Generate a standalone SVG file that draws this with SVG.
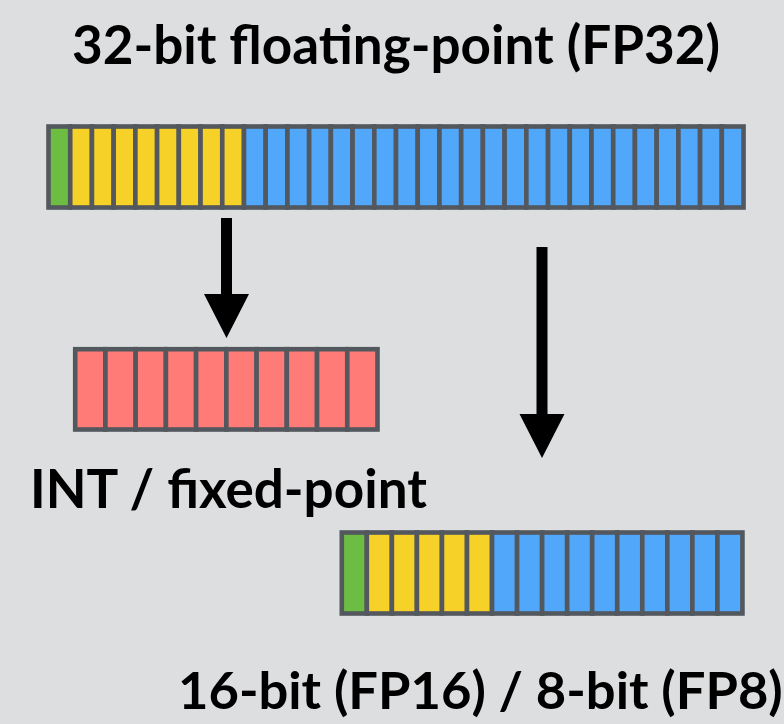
<svg xmlns="http://www.w3.org/2000/svg" width="784" height="724" viewBox="0 0 784 724">
  <defs>
    <style>
      .bg { fill: #dddee0; }
      .cell { stroke: #53575e; stroke-width: 4.6; }
      .sign { fill: #6dbd42; }
      .exp { fill: #f6d229; }
      .man { fill: #51a7f9; }
      .int { fill: #ff7b77; }
      .label { font-family: Lato, "Open Sans", sans-serif; font-weight: 700; font-size: 53px; fill: #000; }
      .arrow { fill: #000; }
    </style>
  </defs>

  <rect class="bg" x="0" y="0" width="784" height="724"/>

  <!-- 32-bit float: 1 sign + 8 exponent + 23 mantissa -->
  <g id="fp32">
    <text class="label" x="396" y="64" text-anchor="middle">32-bit floating-point (FP32)</text>
    <g id="fp32-bits">
      <rect class="cell sign" x="48.5" y="126.5" width="21.72" height="81"/>
      <rect class="cell exp" x="70.22" y="126.5" width="21.72" height="81"/>
      <rect class="cell exp" x="91.94" y="126.5" width="21.72" height="81"/>
      <rect class="cell exp" x="113.66" y="126.5" width="21.72" height="81"/>
      <rect class="cell exp" x="135.38" y="126.5" width="21.72" height="81"/>
      <rect class="cell exp" x="157.1" y="126.5" width="21.72" height="81"/>
      <rect class="cell exp" x="178.82" y="126.5" width="21.72" height="81"/>
      <rect class="cell exp" x="200.54" y="126.5" width="21.72" height="81"/>
      <rect class="cell exp" x="222.26" y="126.5" width="21.72" height="81"/>
      <rect class="cell man" x="243.98" y="126.5" width="21.72" height="81"/>
      <rect class="cell man" x="265.7" y="126.5" width="21.72" height="81"/>
      <rect class="cell man" x="287.42" y="126.5" width="21.72" height="81"/>
      <rect class="cell man" x="309.14" y="126.5" width="21.72" height="81"/>
      <rect class="cell man" x="330.86" y="126.5" width="21.72" height="81"/>
      <rect class="cell man" x="352.58" y="126.5" width="21.72" height="81"/>
      <rect class="cell man" x="374.3" y="126.5" width="21.72" height="81"/>
      <rect class="cell man" x="396.02" y="126.5" width="21.72" height="81"/>
      <rect class="cell man" x="417.74" y="126.5" width="21.72" height="81"/>
      <rect class="cell man" x="439.46" y="126.5" width="21.72" height="81"/>
      <rect class="cell man" x="461.18" y="126.5" width="21.72" height="81"/>
      <rect class="cell man" x="482.9" y="126.5" width="21.72" height="81"/>
      <rect class="cell man" x="504.62" y="126.5" width="21.72" height="81"/>
      <rect class="cell man" x="526.34" y="126.5" width="21.72" height="81"/>
      <rect class="cell man" x="548.06" y="126.5" width="21.72" height="81"/>
      <rect class="cell man" x="569.78" y="126.5" width="21.72" height="81"/>
      <rect class="cell man" x="591.5" y="126.5" width="21.72" height="81"/>
      <rect class="cell man" x="613.22" y="126.5" width="21.72" height="81"/>
      <rect class="cell man" x="634.94" y="126.5" width="21.72" height="81"/>
      <rect class="cell man" x="656.66" y="126.5" width="21.72" height="81"/>
      <rect class="cell man" x="678.38" y="126.5" width="21.72" height="81"/>
      <rect class="cell man" x="700.1" y="126.5" width="21.72" height="81"/>
      <rect class="cell man" x="721.82" y="126.5" width="21.72" height="81"/>
    </g>
  </g>

  <!-- integer / fixed-point: 10 cells -->
  <g id="int">
    <g id="int-bits">
      <rect class="cell int" x="75.2" y="349.2" width="30.23" height="80.3"/>
      <rect class="cell int" x="105.43" y="349.2" width="30.23" height="80.3"/>
      <rect class="cell int" x="135.66" y="349.2" width="30.23" height="80.3"/>
      <rect class="cell int" x="165.89" y="349.2" width="30.23" height="80.3"/>
      <rect class="cell int" x="196.12" y="349.2" width="30.23" height="80.3"/>
      <rect class="cell int" x="226.35" y="349.2" width="30.23" height="80.3"/>
      <rect class="cell int" x="256.58" y="349.2" width="30.23" height="80.3"/>
      <rect class="cell int" x="286.81" y="349.2" width="30.23" height="80.3"/>
      <rect class="cell int" x="317.04" y="349.2" width="30.23" height="80.3"/>
      <rect class="cell int" x="347.27" y="349.2" width="30.23" height="80.3"/>
    </g>
    <text class="label" x="30" y="508">INT / fixed-point</text>
  </g>

  <!-- reduced float: 1 sign + 5 exponent + 10 mantissa -->
  <g id="fp16">
    <g id="fp16-bits">
      <rect class="cell sign" x="341.8" y="532.5" width="25.04" height="81"/>
      <rect class="cell exp" x="366.84" y="532.5" width="25.04" height="81"/>
      <rect class="cell exp" x="391.88" y="532.5" width="25.04" height="81"/>
      <rect class="cell exp" x="416.92" y="532.5" width="25.04" height="81"/>
      <rect class="cell exp" x="441.96" y="532.5" width="25.04" height="81"/>
      <rect class="cell exp" x="467.0" y="532.5" width="25.04" height="81"/>
      <rect class="cell man" x="492.04" y="532.5" width="25.04" height="81"/>
      <rect class="cell man" x="517.08" y="532.5" width="25.04" height="81"/>
      <rect class="cell man" x="542.12" y="532.5" width="25.04" height="81"/>
      <rect class="cell man" x="567.16" y="532.5" width="25.04" height="81"/>
      <rect class="cell man" x="592.2" y="532.5" width="25.04" height="81"/>
      <rect class="cell man" x="617.24" y="532.5" width="25.04" height="81"/>
      <rect class="cell man" x="642.28" y="532.5" width="25.04" height="81"/>
      <rect class="cell man" x="667.32" y="532.5" width="25.04" height="81"/>
      <rect class="cell man" x="692.36" y="532.5" width="25.04" height="81"/>
      <rect class="cell man" x="717.4" y="532.5" width="25.04" height="81"/>
    </g>
    <text class="label" x="178" y="709" style="font-size:52.5px">16-bit (FP16) / 8-bit (FP8)</text>
  </g>

  <!-- conversion arrows -->
  <g id="connectors">
    <path class="arrow" d="M221,218 H232 V294 H249 L226.5,338 L204,294 H221 Z"/>
    <path class="arrow" d="M536.5,247 H547.5 V414 H564.5 L542,458 L519.5,414 H536.5 Z"/>
  </g>
</svg>
